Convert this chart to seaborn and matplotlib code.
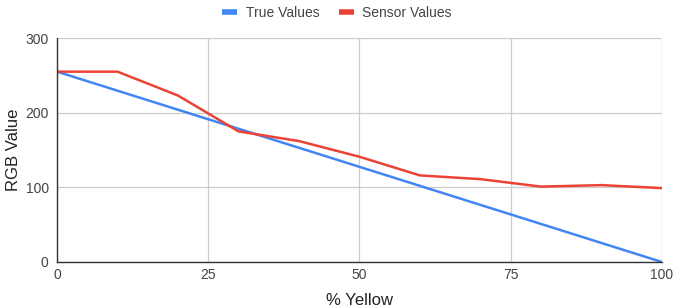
import matplotlib
matplotlib.use("Agg")
import matplotlib.pyplot as plt
import seaborn as sns
import pandas as pd
from matplotlib.lines import Line2D

pct_yellow = [0, 10, 20, 30, 40, 50, 60, 70, 80, 90, 100]
true_values = [255, 229.5, 204, 178.5, 153, 127.5, 102, 76.5, 51, 25.5, 0]
sensor_values = [255, 255, 223, 175, 162, 141, 116, 111, 101, 103, 99]
x_ticks = [0, 25, 50, 75, 100]
y_ticks = [0, 100, 200, 300]

df = pd.DataFrame({
    "% Yellow": pct_yellow * 2,
    "RGB Value": true_values + sensor_values,
    "Series": ["True Values"] * len(pct_yellow) + ["Sensor Values"] * len(pct_yellow),
})

sns.set_theme(style="white")
plt.rcParams["font.family"] = ["Liberation Sans", "DejaVu Sans"]

fig = plt.figure(figsize=(6.74, 3.07), dpi=100)
ax = fig.add_axes([0.0846, 0.1466, 0.8974, 0.7294])

palette = {"True Values": "#4285F4", "Sensor Values": "#EA4335"}
sns.lineplot(data=df, x="% Yellow", y="RGB Value", hue="Series", palette=palette,
             linewidth=1.8, ax=ax, legend=False)

ax.set_xlim(0, 100)
ax.set_ylim(0, 300)
ax.set_xticks(x_ticks)
ax.set_yticks(y_ticks)
ax.grid(True, color="#cccccc", linewidth=0.9)
ax.set_axisbelow(True)
for s in ["top", "right"]:
    ax.spines[s].set_visible(False)
for s in ["left", "bottom"]:
    ax.spines[s].set_color("#333333")
    ax.spines[s].set_linewidth(1.0)
    ax.spines[s].set_zorder(3)
ax.tick_params(axis="both", length=0, labelsize=10, labelcolor="#444444")
ax.tick_params(axis="y", pad=6)
ax.tick_params(axis="x", pad=4)
ax.set_xlabel("% Yellow", fontsize=12, color="#222222", labelpad=8)
ax.set_ylabel("RGB Value", fontsize=12, color="#222222", labelpad=3)

handles = [Line2D([0], [0], color="#4285F4", lw=4, solid_capstyle="butt"),
           Line2D([0], [0], color="#EA4335", lw=4, solid_capstyle="butt")]
fig.legend(handles, ["True Values", "Sensor Values"], loc="upper center",
           bbox_to_anchor=(0.5, 1.02), ncol=2, frameon=False, fontsize=10,
           handlelength=1.1, handletextpad=0.6, columnspacing=1.4,
           labelcolor="#444444")

fig.savefig("out.png", dpi=100)
